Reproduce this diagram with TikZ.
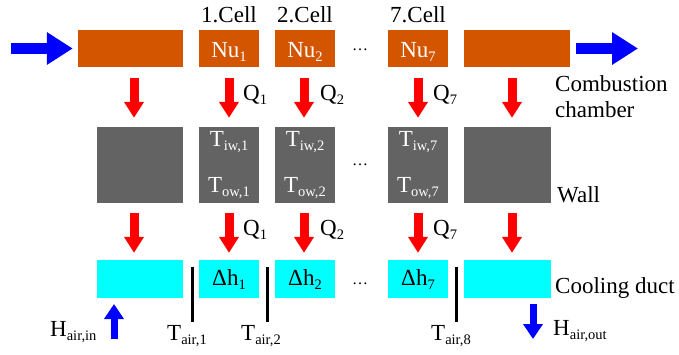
\documentclass[tikz,border=0pt]{standalone}
\usepackage{fontspec}
\setmainfont{Liberation Serif}
\newfontfamily\tnr{Liberation Serif}
\usetikzlibrary{arrows.meta}
\definecolor{burnt}{RGB}{212,85,0}
\definecolor{wallgray}{RGB}{99,99,99}
\definecolor{ductcyan}{RGB}{0,255,255}
\newcommand\sbs[1]{\raisebox{-4pt}{\tnr\fontsize{14.5}{15}\selectfont #1}}
\tikzset{
  every node/.style={font=\tnr\fontsize{23}{27}\selectfont, inner sep=0pt},
  ob/.style={fill=burnt, minimum height=37pt, text=white, text height=17pt, text depth=0pt},
  wb/.style={fill=wallgray, minimum height=76pt},
  db/.style={fill=ductcyan, minimum height=38pt, text height=12pt, text depth=0pt},
  wtxt/.style={text=white, anchor=base},
  dotsnode/.style={font=\tnr\fontsize{16}{16}\selectfont, anchor=base},
  redarr/.style={draw=red, line width=9pt, -{Triangle[width=19pt,length=16pt]}},
  bluebig/.style={draw=blue, line width=11pt, -{Triangle[width=31pt,length=26pt]}},
  bluesmall/.style={draw=blue, line width=7pt, -{Triangle[width=19pt,length=15pt]}},
  bar/.style={draw=black, line width=3pt},
}
\begin{document}
\begin{tikzpicture}[x=1pt,y=-1pt]
\useasboundingbox (0,0) rectangle (679,354);
% combustion chamber row
\node[ob, minimum width=105pt] (c0) at (130.5,48.5) {};
\node[ob, minimum width=60pt] (c1) at (229,48.5) {Nu\sbs{1}};
\node[ob, minimum width=60pt] (c2) at (305,48.5) {Nu\sbs{2}};
\node[ob, minimum width=60pt] (c7) at (418,48.5) {Nu\sbs{7}};
\node[ob, minimum width=106pt] (c8) at (517,48.5) {};
\node[anchor=base] (l1) at ([yshift=7pt]c1.north) {1.Cell};
\node[anchor=base] (l2) at ([yshift=7pt]c2.north) {2.Cell};
\node[anchor=base] (l7) at ([yshift=7pt]c7.north) {7.Cell};
\node[dotsnode] (dt) at (360,50) {…};
% wall row
\node[wb, minimum width=86pt] (w0) at (140,165) {};
\node[wb, minimum width=60pt] (w1) at (229,165) {};
\node[wb, minimum width=60pt] (w2) at (305,165) {};
\node[wb, minimum width=60pt] (w7) at (418,165) {};
\node[wb, minimum width=87pt] (w8) at (507.5,165) {};
\node[wtxt] (ti1) at ([yshift=-20pt]w1.north) {T\sbs{iw,1}};
\node[wtxt] (to1) at ([yshift=11pt]w1.south) {T\sbs{ow,1}};
\node[wtxt] (ti2) at ([yshift=-20pt]w2.north) {T\sbs{iw,2}};
\node[wtxt] (to2) at ([yshift=11pt]w2.south) {T\sbs{ow,2}};
\node[wtxt] (ti7) at ([yshift=-20pt]w7.north) {T\sbs{iw,7}};
\node[wtxt] (to7) at ([yshift=11pt]w7.south) {T\sbs{ow,7}};
\node[dotsnode] (dm) at (360,165) {…};
% cooling duct row
\node[db, minimum width=86pt] (d0) at (140,279) {};
\node[db, minimum width=60pt] (d1) at (229,279) {Δh\sbs{1}};
\node[db, minimum width=60pt] (d2) at (305,279) {Δh\sbs{2}};
\node[db, minimum width=60pt] (d7) at (418,279) {Δh\sbs{7}};
\node[db, minimum width=87pt] (d8) at (507.5,279) {};
\node[dotsnode] (db) at (360,284) {…};
% side labels
\node[anchor=base west] (lc1) at (555,91) {Combustion};
\node[anchor=base west] (lc2) at (555,117) {chamber};
\node[anchor=base west] (lw) at (557,202) {Wall};
\node[anchor=base west] (ld) at (555,293) {Cooling duct};
% blue in/out arrows
\coordinate (inL) at (11,48.5);
\coordinate (outR) at (638,48.5);
\draw[bluebig] (inL) -- ([xshift=-5pt]c0.west);
\draw[bluebig] ([xshift=6pt]c8.east) -- (outR);
% red arrows row 1
\draw[redarr] ([xshift=3.5pt,yshift=-11pt]c0.south) -- ([xshift=-6pt,yshift=9pt]w0.north);
\draw[redarr] ([yshift=-11pt]c1.south) -- ([yshift=9pt]w1.north);
\draw[redarr] ([xshift=-1pt,yshift=-11pt]c2.south) -- ([xshift=-1pt,yshift=9pt]w2.north);
\draw[redarr] ([yshift=-11pt]c7.south) -- ([yshift=9pt]w7.north);
\draw[redarr] ([xshift=-5pt,yshift=-11pt]c8.south) -- ([xshift=4.5pt,yshift=9pt]w8.north);
\node[anchor=base west] (q11) at (243,100) {Q\sbs{1}};
\node[anchor=base west] (q12) at (320,100) {Q\sbs{2}};
\node[anchor=base west] (q17) at (433,100) {Q\sbs{7}};
% red arrows row 2
\draw[redarr] ([xshift=-6pt,yshift=-10pt]w0.south) -- ([xshift=-6pt,yshift=7pt]d0.north);
\draw[redarr] ([yshift=-10pt]w1.south) -- ([yshift=7pt]d1.north);
\draw[redarr] ([xshift=-1pt,yshift=-10pt]w2.south) -- ([xshift=-1pt,yshift=7pt]d2.north);
\draw[redarr] ([yshift=-10pt]w7.south) -- ([yshift=7pt]d7.north);
\draw[redarr] ([xshift=4.5pt,yshift=-10pt]w8.south) -- ([xshift=4.5pt,yshift=7pt]d8.north);
\node[anchor=base west] (q21) at (243,235) {Q\sbs{1}};
\node[anchor=base west] (q22) at (320,235) {Q\sbs{2}};
\node[anchor=base west] (q27) at (433,235) {Q\sbs{7}};
% separators and air temperatures
\draw[bar] (192,267) -- (192,322);
\draw[bar] (267,267) -- (267,322);
\draw[bar] (456,267) -- (456,322);
\node[anchor=base west] (ta1) at (167,340) {T\sbs{air,1}};
\node[anchor=base west] (ta2) at (241,340) {T\sbs{air,2}};
\node[anchor=base west] (ta8) at (431,340) {T\sbs{air,8}};
% air in / out
\coordinate (hin0) at (114,339);
\coordinate (hin1) at (114,304);
\coordinate (hout0) at (533,304);
\coordinate (hout1) at (533,339);
\draw[bluesmall] (hin0) -- (hin1);
\draw[bluesmall] (hout0) -- (hout1);
\node[anchor=base west] (hi) at (50,336) {H\sbs{air,in}};
\node[anchor=base west] (ho) at (553,335) {H\sbs{air,out}};
\end{tikzpicture}
\end{document}
